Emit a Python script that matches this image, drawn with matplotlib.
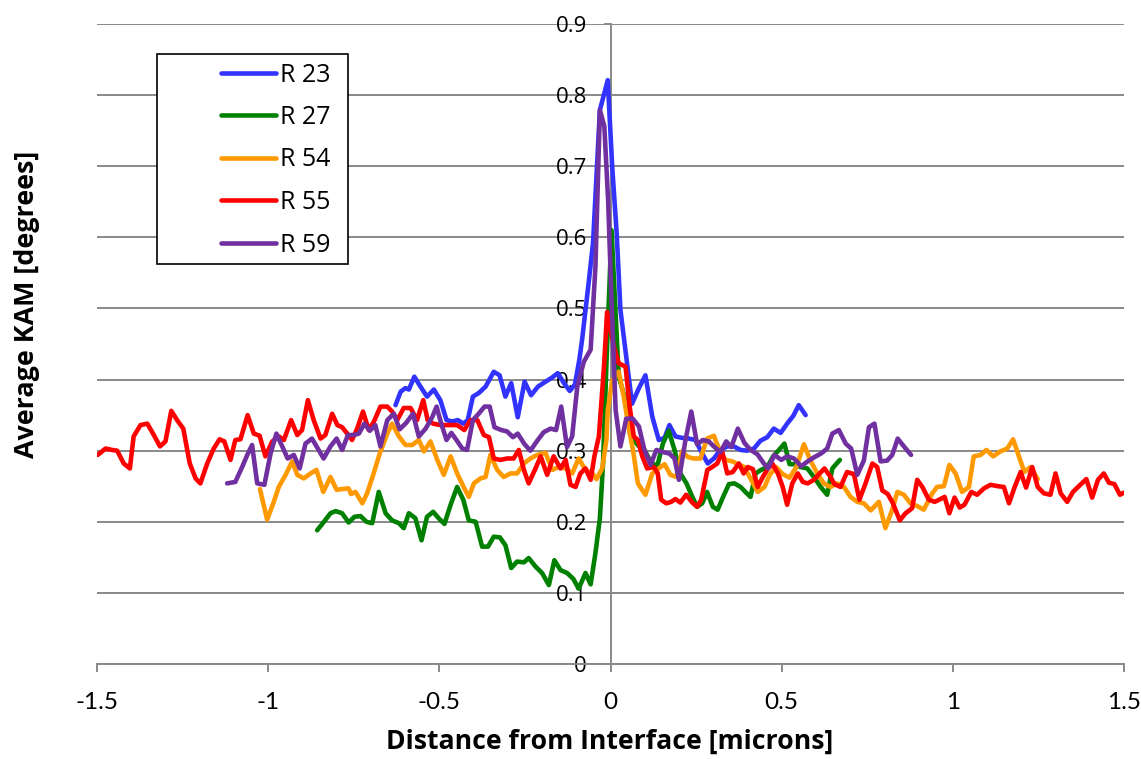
import matplotlib
matplotlib.use("Agg")
import matplotlib.pyplot as plt
from matplotlib.patches import Rectangle
import numpy as np

# series: (distance [microns], average KAM [degrees])
r23 = [(-0.628, 0.364), (-0.613, 0.383), (-0.599, 0.388), (-0.589, 0.386), (-0.573, 0.404),
       (-0.555, 0.390), (-0.536, 0.376), (-0.516, 0.386), (-0.497, 0.371), (-0.479, 0.343),
       (-0.462, 0.341), (-0.446, 0.343), (-0.430, 0.338), (-0.417, 0.343), (-0.402, 0.376),
       (-0.385, 0.381), (-0.365, 0.390), (-0.341, 0.411), (-0.324, 0.406), (-0.307, 0.376),
       (-0.290, 0.395), (-0.271, 0.347), (-0.251, 0.397), (-0.232, 0.378), (-0.212, 0.390),
       (-0.193, 0.396), (-0.170, 0.403), (-0.154, 0.409), (-0.136, 0.395), (-0.119, 0.384),
       (-0.104, 0.393), (-0.091, 0.428), (-0.083, 0.456), (-0.065, 0.531), (-0.051, 0.592),
       (-0.031, 0.779), (-0.008, 0.821), (0.005, 0.699), (0.018, 0.606), (0.029, 0.498),
       (0.047, 0.428), (0.063, 0.366), (0.083, 0.388), (0.102, 0.406), (0.122, 0.348),
       (0.141, 0.315), (0.158, 0.318), (0.172, 0.336), (0.190, 0.320), (0.209, 0.318),
       (0.229, 0.317), (0.248, 0.315), (0.268, 0.296), (0.284, 0.282), (0.302, 0.289),
       (0.321, 0.301), (0.341, 0.306), (0.360, 0.306), (0.380, 0.301), (0.399, 0.300),
       (0.419, 0.303), (0.438, 0.314), (0.458, 0.319), (0.477, 0.331), (0.497, 0.325),
       (0.516, 0.338), (0.534, 0.349), (0.550, 0.364), (0.570, 0.350)]

r27 = [(-0.857, 0.188), (-0.837, 0.200), (-0.818, 0.212), (-0.803, 0.215), (-0.784, 0.212),
       (-0.765, 0.199), (-0.748, 0.207), (-0.730, 0.208), (-0.713, 0.200), (-0.696, 0.198),
       (-0.677, 0.242), (-0.657, 0.212), (-0.638, 0.202), (-0.618, 0.198), (-0.604, 0.191),
       (-0.589, 0.212), (-0.570, 0.205), (-0.552, 0.174), (-0.536, 0.207), (-0.518, 0.214),
       (-0.502, 0.205), (-0.485, 0.197), (-0.467, 0.224), (-0.448, 0.249), (-0.430, 0.231),
       (-0.414, 0.202), (-0.394, 0.200), (-0.375, 0.165), (-0.358, 0.165), (-0.341, 0.179),
       (-0.323, 0.178), (-0.307, 0.167), (-0.290, 0.135), (-0.273, 0.144), (-0.253, 0.143),
       (-0.239, 0.149), (-0.219, 0.137), (-0.200, 0.128), (-0.180, 0.111), (-0.164, 0.146),
       (-0.146, 0.132), (-0.127, 0.128), (-0.109, 0.120), (-0.093, 0.106), (-0.073, 0.128),
       (-0.058, 0.112), (-0.044, 0.156), (-0.031, 0.205), (-0.022, 0.280), (-0.012, 0.420),
       (0.003, 0.610), (0.024, 0.404), (0.041, 0.376), (0.056, 0.338), (0.068, 0.315),
       (0.083, 0.306), (0.099, 0.301), (0.117, 0.285), (0.136, 0.277), (0.153, 0.310),
       (0.170, 0.328), (0.187, 0.301), (0.204, 0.268), (0.222, 0.254), (0.239, 0.235),
       (0.253, 0.221), (0.268, 0.226), (0.282, 0.242), (0.299, 0.221), (0.313, 0.217),
       (0.329, 0.235), (0.346, 0.253), (0.362, 0.254), (0.380, 0.249), (0.396, 0.241),
       (0.409, 0.235), (0.424, 0.268), (0.440, 0.273), (0.458, 0.277), (0.475, 0.292),
       (0.492, 0.301), (0.508, 0.310), (0.523, 0.281), (0.538, 0.281), (0.555, 0.277),
       (0.575, 0.275), (0.594, 0.263), (0.614, 0.249), (0.633, 0.238), (0.648, 0.275),
       (0.670, 0.287)]

r54 = [(-1.024, 0.246), (-1.003, 0.203), (-0.985, 0.226), (-0.969, 0.249), (-0.949, 0.266),
       (-0.930, 0.285), (-0.915, 0.266), (-0.896, 0.261), (-0.876, 0.268), (-0.859, 0.273),
       (-0.839, 0.242), (-0.818, 0.263), (-0.800, 0.245), (-0.784, 0.246), (-0.765, 0.247),
       (-0.758, 0.239), (-0.745, 0.242), (-0.725, 0.226), (-0.711, 0.240), (-0.692, 0.268),
       (-0.674, 0.296), (-0.652, 0.324), (-0.638, 0.338), (-0.618, 0.320), (-0.599, 0.308),
       (-0.579, 0.308), (-0.560, 0.315), (-0.545, 0.299), (-0.526, 0.313), (-0.506, 0.287),
       (-0.487, 0.266), (-0.467, 0.292), (-0.448, 0.268), (-0.429, 0.249), (-0.414, 0.235),
       (-0.399, 0.254), (-0.380, 0.261), (-0.365, 0.263), (-0.351, 0.294), (-0.331, 0.273),
       (-0.312, 0.263), (-0.292, 0.268), (-0.273, 0.268), (-0.253, 0.282), (-0.234, 0.289),
       (-0.214, 0.294), (-0.190, 0.297), (-0.170, 0.273), (-0.151, 0.277), (-0.131, 0.275),
       (-0.112, 0.268), (-0.093, 0.289), (-0.073, 0.273), (-0.053, 0.268), (-0.041, 0.260),
       (-0.024, 0.275), (-0.012, 0.315), (-0.008, 0.357), (0.005, 0.399), (0.024, 0.411),
       (0.039, 0.375), (0.054, 0.330), (0.066, 0.300), (0.080, 0.254), (0.102, 0.238),
       (0.122, 0.268), (0.141, 0.275), (0.158, 0.281), (0.175, 0.266), (0.193, 0.263),
       (0.209, 0.299), (0.226, 0.291), (0.243, 0.289), (0.263, 0.289), (0.282, 0.317),
       (0.302, 0.321), (0.318, 0.301), (0.336, 0.287), (0.356, 0.285), (0.372, 0.281),
       (0.391, 0.277), (0.411, 0.259), (0.430, 0.242), (0.450, 0.249), (0.465, 0.266),
       (0.484, 0.277), (0.503, 0.267), (0.523, 0.262), (0.543, 0.277), (0.565, 0.309),
       (0.584, 0.286), (0.604, 0.268), (0.623, 0.254), (0.643, 0.249), (0.662, 0.254),
       (0.682, 0.249), (0.701, 0.235), (0.721, 0.228), (0.740, 0.226), (0.760, 0.216),
       (0.784, 0.228), (0.803, 0.191), (0.823, 0.217), (0.838, 0.242), (0.857, 0.238),
       (0.876, 0.226), (0.896, 0.222), (0.915, 0.217), (0.940, 0.240), (0.954, 0.249),
       (0.974, 0.250), (0.990, 0.280), (1.008, 0.268), (1.027, 0.242), (1.047, 0.249),
       (1.061, 0.292), (1.081, 0.294), (1.098, 0.301), (1.118, 0.292), (1.139, 0.299),
       (1.159, 0.303), (1.176, 0.316), (1.193, 0.292), (1.209, 0.270), (1.227, 0.277),
       (1.248, 0.260)]

r55 = [(-1.498, 0.294), (-1.475, 0.303), (-1.456, 0.301), (-1.441, 0.300), (-1.422, 0.282),
       (-1.404, 0.275), (-1.393, 0.320), (-1.373, 0.336), (-1.353, 0.338), (-1.334, 0.322),
       (-1.316, 0.306), (-1.300, 0.313), (-1.283, 0.356), (-1.266, 0.343), (-1.248, 0.331),
       (-1.229, 0.282), (-1.212, 0.261), (-1.198, 0.254), (-1.178, 0.282), (-1.159, 0.303),
       (-1.142, 0.316), (-1.128, 0.313), (-1.110, 0.287), (-1.096, 0.315), (-1.081, 0.316),
       (-1.060, 0.350), (-1.042, 0.324), (-1.025, 0.321), (-1.008, 0.292), (-0.988, 0.313),
       (-0.969, 0.320), (-0.954, 0.315), (-0.933, 0.343), (-0.915, 0.322), (-0.901, 0.329),
       (-0.884, 0.371), (-0.867, 0.343), (-0.847, 0.317), (-0.833, 0.322), (-0.813, 0.352),
       (-0.798, 0.336), (-0.784, 0.333), (-0.769, 0.324), (-0.755, 0.315), (-0.740, 0.331),
       (-0.723, 0.355), (-0.706, 0.329), (-0.691, 0.341), (-0.672, 0.362), (-0.652, 0.362),
       (-0.638, 0.355), (-0.623, 0.343), (-0.604, 0.360), (-0.584, 0.360), (-0.565, 0.343),
       (-0.547, 0.371), (-0.534, 0.343), (-0.518, 0.338), (-0.497, 0.336), (-0.472, 0.336),
       (-0.448, 0.336), (-0.427, 0.329), (-0.409, 0.343), (-0.389, 0.343), (-0.370, 0.322),
       (-0.355, 0.319), (-0.341, 0.289), (-0.321, 0.287), (-0.302, 0.289), (-0.283, 0.289),
       (-0.268, 0.301), (-0.253, 0.273), (-0.239, 0.254), (-0.219, 0.275), (-0.204, 0.292),
       (-0.185, 0.266), (-0.166, 0.292), (-0.146, 0.275), (-0.131, 0.287), (-0.117, 0.252),
       (-0.102, 0.249), (-0.088, 0.268), (-0.073, 0.275), (-0.058, 0.259), (-0.047, 0.292),
       (-0.034, 0.320), (-0.019, 0.418), (-0.010, 0.495), (0.010, 0.446), (0.024, 0.423),
       (0.044, 0.418), (0.056, 0.362), (0.068, 0.320), (0.080, 0.315), (0.093, 0.292),
       (0.107, 0.275), (0.127, 0.277), (0.138, 0.268), (0.148, 0.231), (0.163, 0.226),
       (0.177, 0.228), (0.190, 0.232), (0.204, 0.227), (0.221, 0.238), (0.239, 0.227),
       (0.253, 0.221), (0.265, 0.231), (0.283, 0.273), (0.297, 0.277), (0.312, 0.282),
       (0.326, 0.299), (0.341, 0.268), (0.357, 0.270), (0.375, 0.282), (0.389, 0.268),
       (0.401, 0.277), (0.416, 0.274), (0.430, 0.249), (0.445, 0.263), (0.460, 0.275),
       (0.474, 0.281), (0.489, 0.268), (0.503, 0.249), (0.516, 0.224), (0.531, 0.254),
       (0.547, 0.268), (0.562, 0.256), (0.576, 0.254), (0.594, 0.259), (0.611, 0.268),
       (0.625, 0.275), (0.643, 0.263), (0.654, 0.253), (0.672, 0.249), (0.691, 0.270),
       (0.711, 0.267), (0.727, 0.231), (0.745, 0.254), (0.765, 0.282), (0.779, 0.277),
       (0.794, 0.244), (0.810, 0.239), (0.825, 0.226), (0.845, 0.202), (0.862, 0.212),
       (0.881, 0.219), (0.896, 0.259), (0.911, 0.249), (0.930, 0.231), (0.947, 0.228),
       (0.964, 0.232), (0.976, 0.235), (0.990, 0.212), (1.005, 0.234), (1.020, 0.220),
       (1.034, 0.224), (1.054, 0.242), (1.071, 0.238), (1.091, 0.247), (1.110, 0.252),
       (1.132, 0.250), (1.149, 0.249), (1.164, 0.226), (1.180, 0.248), (1.198, 0.270),
       (1.214, 0.248), (1.232, 0.277), (1.248, 0.249), (1.266, 0.240), (1.285, 0.238),
       (1.300, 0.268), (1.315, 0.240), (1.334, 0.228), (1.351, 0.242), (1.368, 0.250),
       (1.390, 0.260), (1.407, 0.234), (1.424, 0.259), (1.441, 0.268), (1.456, 0.255),
       (1.472, 0.253), (1.488, 0.238), (1.500, 0.241)]

r59 = [(-1.120, 0.254), (-1.096, 0.256), (-1.076, 0.277), (-1.061, 0.294), (-1.047, 0.308),
       (-1.032, 0.254), (-1.011, 0.252), (-0.993, 0.296), (-0.976, 0.324), (-0.959, 0.306),
       (-0.943, 0.289), (-0.925, 0.294), (-0.908, 0.275), (-0.891, 0.310), (-0.872, 0.317),
       (-0.855, 0.303), (-0.838, 0.289), (-0.818, 0.306), (-0.800, 0.317), (-0.784, 0.301),
       (-0.767, 0.322), (-0.750, 0.322), (-0.735, 0.324), (-0.719, 0.338), (-0.703, 0.328),
       (-0.687, 0.336), (-0.672, 0.306), (-0.652, 0.343), (-0.633, 0.352), (-0.616, 0.330),
       (-0.597, 0.339), (-0.577, 0.352), (-0.560, 0.320), (-0.540, 0.331), (-0.521, 0.347),
       (-0.508, 0.362), (-0.495, 0.339), (-0.479, 0.315), (-0.465, 0.325), (-0.450, 0.315),
       (-0.433, 0.303), (-0.419, 0.301), (-0.402, 0.343), (-0.385, 0.352), (-0.368, 0.362),
       (-0.353, 0.362), (-0.339, 0.333), (-0.319, 0.329), (-0.302, 0.327), (-0.285, 0.319),
       (-0.271, 0.324), (-0.251, 0.309), (-0.234, 0.300), (-0.214, 0.314), (-0.195, 0.326),
       (-0.175, 0.331), (-0.159, 0.329), (-0.144, 0.362), (-0.127, 0.305), (-0.112, 0.320),
       (-0.097, 0.390), (-0.078, 0.425), (-0.058, 0.442), (-0.044, 0.559), (-0.031, 0.779),
       (-0.018, 0.756), (-0.007, 0.653), (0.003, 0.512), (0.015, 0.357), (0.029, 0.306),
       (0.046, 0.345), (0.065, 0.345), (0.083, 0.334), (0.099, 0.301), (0.117, 0.280),
       (0.134, 0.301), (0.153, 0.298), (0.172, 0.296), (0.187, 0.289), (0.200, 0.259),
       (0.219, 0.315), (0.236, 0.355), (0.253, 0.309), (0.270, 0.315), (0.287, 0.313),
       (0.304, 0.305), (0.321, 0.298), (0.338, 0.313), (0.353, 0.305), (0.372, 0.331),
       (0.391, 0.311), (0.409, 0.301), (0.429, 0.295), (0.448, 0.282), (0.460, 0.275),
       (0.479, 0.294), (0.499, 0.287), (0.516, 0.292), (0.536, 0.289), (0.557, 0.278),
       (0.576, 0.285), (0.596, 0.291), (0.615, 0.296), (0.633, 0.303), (0.648, 0.324),
       (0.667, 0.329), (0.687, 0.310), (0.703, 0.303), (0.721, 0.266), (0.740, 0.286),
       (0.755, 0.333), (0.771, 0.338), (0.789, 0.285), (0.808, 0.286), (0.823, 0.294),
       (0.839, 0.317), (0.857, 0.306), (0.878, 0.294)]

series_names = ["R 23", "R 27", "R 54", "R 55", "R 59"]
series_colors = ["#3333FF", "#008000", "#FF9900", "#FF0000", "#7030A0"]
series_data = [r23, r27, r54, r55, r59]

x_ticks = [-1.5, -1.0, -0.5, 0.0, 0.5, 1.0, 1.5]
x_tick_labels = ["-1.5", "-1", "-0.5", "0", "0.5", "1", "1.5"]
y_ticks = [0.0, 0.1, 0.2, 0.3, 0.4, 0.5, 0.6, 0.7, 0.8, 0.9]
y_tick_labels = ["0", "0.1", "0.2", "0.3", "0.4", "0.5", "0.6", "0.7", "0.8", "0.9"]

W, H = 1141, 759
GRAY = "#898989"

fig = plt.figure(figsize=(W / 100, H / 100), dpi=100)
ax = fig.add_axes([97 / W, (H - 664) / H, 1027 / W, 640 / H])

for name, color, pts in zip(series_names, series_colors, series_data):
    arr = np.array(pts)
    ax.plot(arr[:, 0], arr[:, 1], color=color, lw=3.3, label=name,
            solid_joinstyle="round", solid_capstyle="round", zorder=3)

# the y axis crosses at x = 0; move the spine first, it resets the ticks
for side in ("top", "right"):
    ax.spines[side].set_visible(False)
ax.spines["left"].set_position(("data", 0))
ax.spines["left"].set_color(GRAY)
ax.spines["left"].set_linewidth(1.4)
ax.spines["bottom"].set_color(GRAY)
ax.spines["bottom"].set_linewidth(1.4)

ax.set_xlim(-1.5, 1.5)
ax.set_ylim(0, 0.9)
ax.set_xticks(x_ticks)
ax.set_xticklabels(x_tick_labels, family="Lato", fontsize=17.5)
ax.set_yticks(y_ticks)
ax.set_yticklabels(y_tick_labels, family="Open Sans", fontsize=16)
ax.tick_params(axis="x", direction="out", length=6, width=1.4, color=GRAY, pad=14.5)
ax.tick_params(axis="y", direction="out", length=5, width=1.4, color=GRAY, pad=12)

ax.yaxis.grid(True, color=GRAY, lw=1.4)
ax.set_axisbelow(True)

# legend frame drawn by hand so the box can be sized like the original
ax.add_patch(Rectangle((157 / W, (H - 264) / H), 191 / W, 210 / H, transform=fig.transFigure,
                       facecolor="white", edgecolor="black", lw=1.2, zorder=4, clip_on=False))
ax.legend(loc="upper left", bbox_to_anchor=(221 / W, (H - 62.5) / H), bbox_transform=fig.transFigure,
          frameon=False, borderpad=0, borderaxespad=0, handlelength=2.2, handletextpad=0.15,
          labelspacing=0.7, prop={"family": "Open Sans", "size": 18})

fig.text(610 / W, (H - 742) / H, "Distance from Interface [microns]", ha="center", va="center",
         family="Open Sans", fontweight="bold", fontsize=19.2)
fig.text(27 / W, (H - 304) / H, "Average KAM [degrees]", ha="center", va="center", rotation=90,
         family="Open Sans", fontweight="bold", fontsize=19.4)

fig.savefig("out.png", dpi=100)
